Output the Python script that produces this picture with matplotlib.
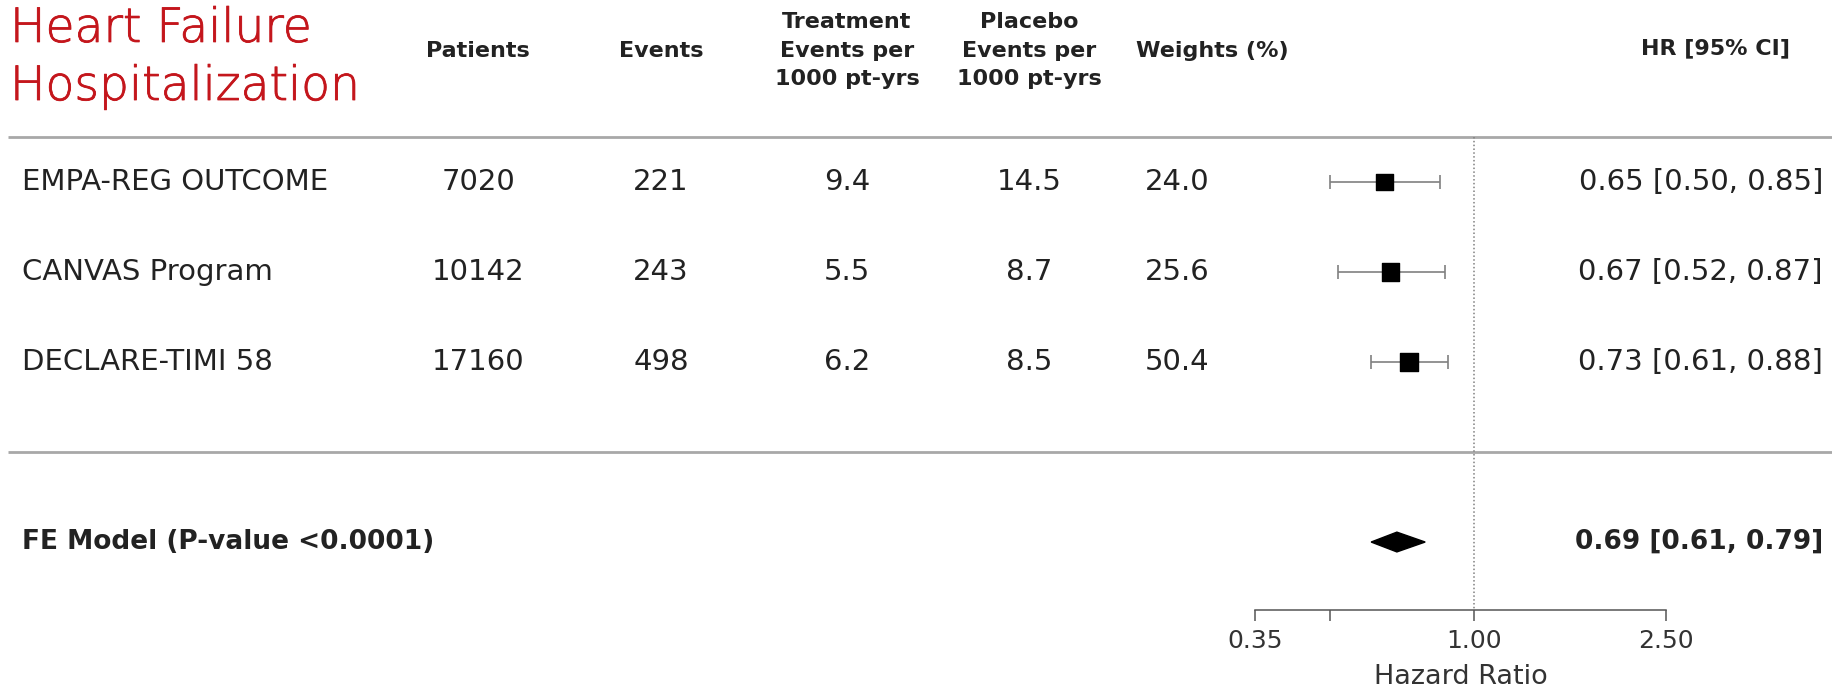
import numpy as np
import matplotlib.pyplot as plt
import matplotlib.patheffects as pe
from matplotlib.patches import Polygon
from matplotlib.ticker import NullLocator

# study data
studies = ['EMPA-REG OUTCOME', 'CANVAS Program', 'DECLARE-TIMI 58']
patients = [7020, 10142, 17160]
events = [221, 243, 498]
trt_rate = [9.4, 5.5, 6.2]
pbo_rate = [14.5, 8.7, 8.5]
weights = [24.0, 25.6, 50.4]
hr = [0.65, 0.67, 0.73]
hr_lo = [0.50, 0.52, 0.61]
hr_hi = [0.85, 0.87, 0.88]

fe_label = 'FE Model (P-value <0.0001)'
fe_hr, fe_lo, fe_hi = 0.69, 0.61, 0.79

xticks = [0.35, 0.5, 1.0, 2.5]
xticklabels = ['0.35', '', '1.00', '2.50']

headers = [['Patients'], ['Events'],
           ['Treatment', 'Events per', '1000 pt-yrs'],
           ['Placebo', 'Events per', '1000 pt-yrs']]

W, H = 1832, 690
YLIM = (6.644, -1.022)   # row units, rows 1..3, FE model at 5
col_x = [478, 661, 847, 1029, 1177]
txt = '#222222'
red = '#c4161c'

fig = plt.figure(figsize=(W / 100, H / 100), dpi=100)

# table layer (x in pixels, y in row units)
tab = fig.add_axes([0, 0, 1, 1])
tab.set_xlim(0, W)
tab.set_ylim(*YLIM)
tab.axis('off')

# forest layer
ax = fig.add_axes([1255 / W, 0, (1666 - 1255) / W, 1])
ax.set_xscale('log')
ax.set_xlim(0.35, 2.5)
ax.set_ylim(*YLIM)
ax.patch.set_visible(False)
for s in ['top', 'left', 'right']:
    ax.spines[s].set_visible(False)
ax.yaxis.set_visible(False)
ax.spines['bottom'].set_position(('data', 5.75))
ax.spines['bottom'].set_bounds(0.35, 2.5)
ax.spines['bottom'].set_color('#555555')
ax.spines['bottom'].set_linewidth(1.1)
ax.set_xticks(xticks)
ax.set_xticklabels(xticklabels)
ax.xaxis.set_minor_locator(NullLocator())
ax.tick_params(axis='x', direction='out', length=8, width=1.1, color='#555555',
               labelsize=18, labelcolor='#333333', pad=6)
ax.set_xlabel('Hazard Ratio', fontsize=19.5, color='#333333', labelpad=8)

# title
thick = [pe.withStroke(linewidth=0.6, foreground=red)]
tab.text(10, -0.556, 'Heart Failure', color=red, fontsize=34,
         fontweight='light', va='baseline', ha='left', path_effects=thick)
tab.text(10, 0.089, 'Hospitalization', color=red, fontsize=34,
         fontweight='light', va='baseline', ha='left', path_effects=thick)

# column headers
header_y = {1: [-0.456], 3: [-0.778, -0.456, -0.144]}
for x, lines in zip(col_x[:4], headers):
    for ly, line in zip(header_y[len(lines)], lines):
        tab.text(x, ly, line, ha='center', va='center', fontsize=16,
                 fontweight='bold', color=txt)
tab.text(1212, -0.456, 'Weights (%)', ha='center', va='center', fontsize=16,
         fontweight='bold', color=txt)
tab.text(1790, -0.489, 'HR [95% CI]', ha='right', va='center', fontsize=16,
         fontweight='bold', color=txt)

# separators
tab.hlines([0.5, 4.0], 8, W, color='#a8a8a8', lw=2)

# rows
rows = np.arange(1, len(studies) + 1)
for i, y in enumerate(rows):
    tab.text(22, y, studies[i], ha='left', va='center', fontsize=21, color=txt)
    vals = [str(patients[i]), str(events[i]), f'{trt_rate[i]:.1f}',
            f'{pbo_rate[i]:.1f}', f'{weights[i]:.1f}']
    for x, v in zip(col_x, vals):
        tab.text(x, y, v, ha='center', va='center', fontsize=21, color=txt)
    tab.text(1823, y, f'{hr[i]:.2f} [{hr_lo[i]:.2f}, {hr_hi[i]:.2f}]',
             ha='right', va='center', fontsize=21, color=txt)

tab.text(22, 5, fe_label, ha='left', va='center', fontsize=19,
         fontweight='bold', color=txt)
tab.text(1823, 5, f'{fe_hr:.2f} [{fe_lo:.2f}, {fe_hi:.2f}]', ha='right',
         va='center', fontsize=19, fontweight='bold', color=txt)

# reference line
ax.vlines(1.0, 0.5, 5.75, color='#808080', linestyle=(0, (1, 1.5)), lw=1.1)

# CIs and squares
hr_a = np.array(hr)
err = [hr_a - np.array(hr_lo), np.array(hr_hi) - hr_a]
ax.errorbar(hr_a, rows, xerr=err, fmt='none', ecolor='#808080', elinewidth=1.2,
            capsize=5, capthick=1.2, clip_on=False)
sizes = (10.5 + 2.5 * np.sqrt(np.array(weights) / max(weights))) ** 2
ax.scatter(hr_a, rows, s=sizes, marker='s', color='black', zorder=3, clip_on=False)

# summary diamond
dh = 0.11
ax.add_patch(Polygon([(fe_lo, 5), (fe_hr, 5 - dh), (fe_hi, 5), (fe_hr, 5 + dh)],
                     closed=True, facecolor='black', edgecolor='black', clip_on=False))

fig.savefig('out.png', dpi=100)
